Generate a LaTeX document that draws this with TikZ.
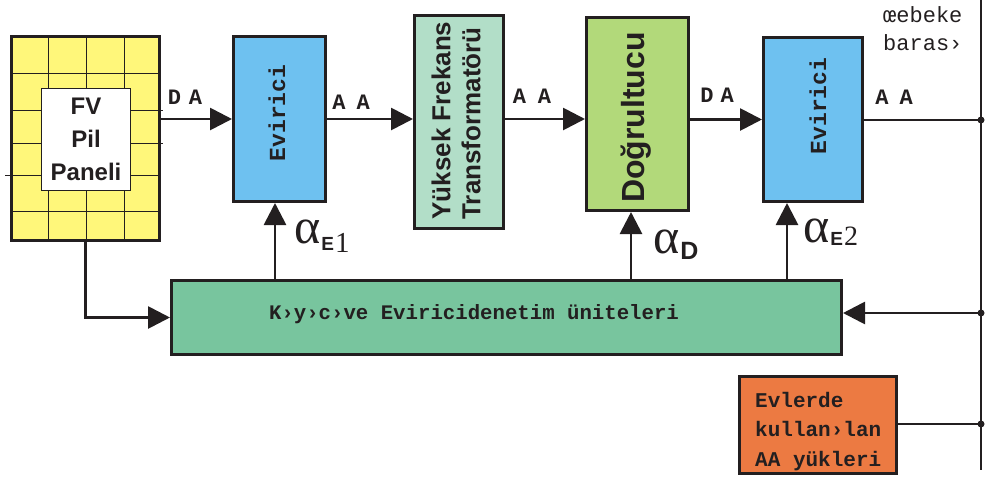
\documentclass[tikz,border=0pt]{standalone}
\usepackage{fontspec}
\setmainfont{Liberation Serif}
\newfontfamily\monof{Liberation Mono}
\newfontfamily\sansf{Liberation Sans}
\usetikzlibrary{arrows.meta}
\definecolor{edge}{RGB}{35,31,32}
\definecolor{pvyellow}{RGB}{255,247,122}
\definecolor{evblue}{RGB}{110,193,240}
\definecolor{trgreen}{RGB}{178,222,200}
\definecolor{dggreen}{RGB}{178,217,122}
\definecolor{ctlgreen}{RGB}{120,197,158}
\definecolor{ldorange}{RGB}{236,122,66}
\begin{document}
\begin{tikzpicture}[x=1pt,y=-1pt,
  box/.style={draw=edge, line width=3pt, rectangle, inner sep=0pt},
  conn/.style={draw=edge, line width=2.8pt},
  arr/.style={conn, -{Triangle[length=22pt,width=22pt]}},
  gridl/.style={draw=edge, line width=1pt},
  lbl/.style={font=\monof\bfseries\fontsize{22}{22}\selectfont, inner sep=0pt, text=edge},
  rlbl/.style={font=\monof\bfseries\fontsize{23}{23}\selectfont, inner sep=0pt, text=edge, rotate=90},
  sanslbl/.style={font=\sansf\bfseries, inner sep=0pt, text=edge},
  dot/.style={fill=edge}]
\useasboundingbox (0,0) rectangle (985,477);

% PV panel
\node[box, fill=pvyellow, minimum width=148pt, minimum height=204pt] (pv) at (85.5,138.5) {};
\draw[gridl] (48,35) -- (48,242) (86,35) -- (86,242) (124,35) -- (124,242);
\draw[gridl] (10,73) -- (161,73) (10,110) -- (163,110) (10,143) -- (163,143)
  (5,175) -- (161,175) (10,211) -- (161,211);
\node[draw=edge, line width=1pt, fill=white, minimum width=89pt, minimum height=102pt,
  inner sep=0pt, align=center, text=edge,
  font=\sansf\bfseries\fontsize{24}{33}\selectfont] (pvtext) at (86,139.5) {FV\\Pil\\Paneli};

% main chain
\node[box, fill=evblue, minimum width=92pt, minimum height=165pt] (ev1) at (279.5,119) {};
\node[rlbl] (ev1t) at (277,113) {Evirici};
\node[box, fill=trgreen, minimum width=89pt, minimum height=213pt] (tr) at (459,122) {};
\node[sanslbl, rotate=90, align=left, font=\sansf\bfseries\fontsize{26}{30}\selectfont] (trt) at (456,120.5) {Yüksek Frekans\\Transformatörü};
\node[box, fill=dggreen, minimum width=102pt, minimum height=193pt] (dg) at (637.5,114) {};
\node[sanslbl, rotate=90, font=\sansf\bfseries\fontsize{32}{32}\selectfont] (dgt) at (636,117.5) {Doğrultucu};
\node[box, fill=evblue, minimum width=99pt, minimum height=164pt] (ev2) at (813,119.5) {};
\node[rlbl] (ev2t) at (818,106) {Evirici};

% control unit
\node[box, fill=ctlgreen, minimum width=670pt, minimum height=74pt] (ctl) at (506.5,317.5) {};
\node[lbl, font=\monof\bfseries\fontsize{20.7}{20.7}\selectfont] (ctlt) at (474,314) {K›y›c›ve Eviricidenetim üniteleri};

% loads
\node[box, fill=ldorange, minimum width=157pt, minimum height=97pt] (ld) at (818,425) {};
\node[lbl, anchor=north west, align=left, font=\monof\bfseries\fontsize{21}{29.5}\selectfont] (ldt) at (755,392) {Evlerde\\kullan›lan\\AA yükleri};

% bus
\coordinate (bustop) at (981,0);
\coordinate (busbot) at (981,470);
\coordinate (bus1) at (981,120);
\coordinate (bus2) at (981,313);
\coordinate (bus3) at (981,424);
\draw[conn] (bustop) -- (busbot);
\node[inner sep=0pt, anchor=north west, align=left, text=edge,
  font=\monof\fontsize{22}{28}\selectfont] (bust) at (883,6) {œebeke\\baras›};

% connectors
\draw[arr] (pv.east |- ev1.west) -- (ev1.west);
\draw[arr] (ev1.east) -- (tr.west |- ev1.east);
\draw[arr] (tr.east |- ev1.east) -- (dg.west |- ev1.east);
\draw[arr] (dg.east |- ev2.west) -- (ev2.west);
\draw[conn] (ev2.east |- bus1) -- (bus1);
\coordinate (a1) at ([xshift=-4.5pt]ev1.south);
\coordinate (a2) at ([xshift=-6.5pt]dg.south);
\coordinate (a3) at ([xshift=-26pt]ev2.south);
\draw[arr] (ctl.north -| a1) -- (a1);
\draw[arr] (ctl.north -| a2) -- (a2);
\draw[arr] (ctl.north -| a3) -- (a3);
\draw[arr] (pv.south) |- (ctl.west);
\draw[arr] (bus2) -- (ctl.east |- bus2);
\draw[conn] (ld.east |- bus3) -- (bus3);
\fill[dot] (bus1) circle (3.5pt);
\fill[dot] (bus2) circle (3.5pt);
\fill[dot] (bus3) circle (3.5pt);

% connector labels
\node[lbl] (l1) at (185,97) {D\kern8pt A};
\node[lbl] (l2) at (351,102) {A\kern11pt A};
\node[lbl] (l3) at (532,96) {A\kern12pt A};
\node[lbl] (l4) at (717,95) {D\kern7pt A};
\node[lbl] (l5) at (894,97) {A\kern11pt A};

% control signals
\node[anchor=base west, inner sep=0pt, text=edge] (alE1) at (294,243)
  {{\fontsize{50}{50}\selectfont α}\kern1pt\raisebox{-7pt}{\sansf\bfseries\fontsize{19}{19}\selectfont E}\kern1pt\raisebox{-9pt}{\fontsize{29}{29}\selectfont 1}};
\node[anchor=base west, inner sep=0pt, text=edge] (alD) at (653,253)
  {{\fontsize{50}{50}\selectfont α}\kern1pt\raisebox{-6pt}{\sansf\bfseries\fontsize{25}{25}\selectfont D}};
\node[anchor=base west, inner sep=0pt, text=edge] (alE2) at (803,242)
  {{\fontsize{50}{50}\selectfont α}\kern1pt\raisebox{-3pt}{\sansf\bfseries\fontsize{19}{19}\selectfont E}\kern1pt\raisebox{-3pt}{\fontsize{28}{28}\selectfont 2}};
\end{tikzpicture}
\end{document}
